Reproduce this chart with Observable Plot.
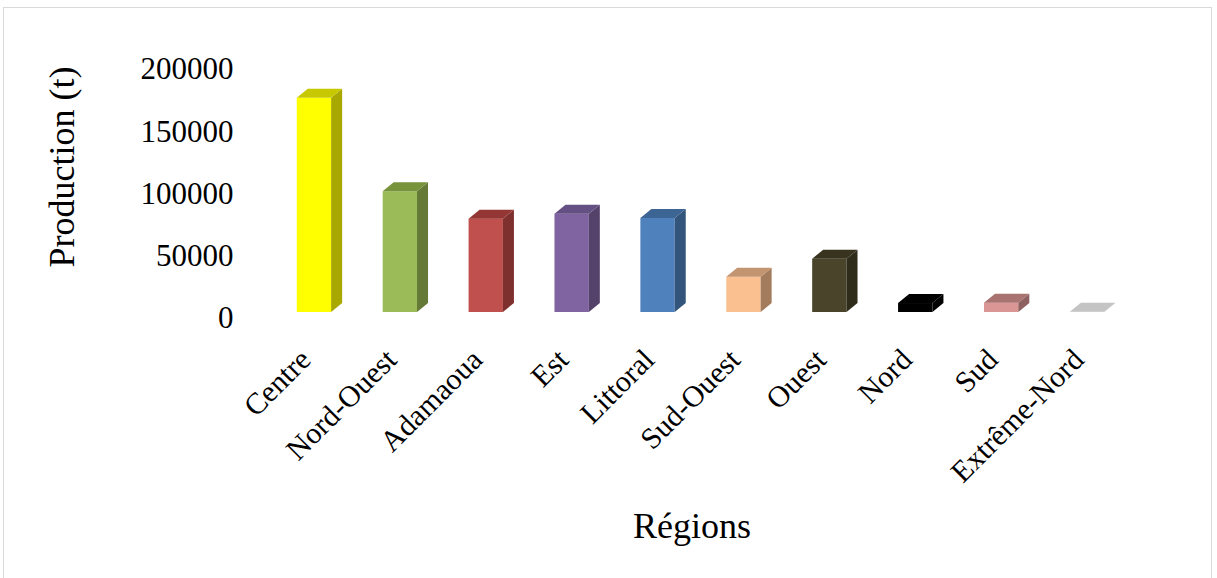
<!DOCTYPE html>
<html>
<head>
<meta charset="utf-8">
<script src="https://cdn.jsdelivr.net/npm/d3@7"></script>
<script src="https://cdn.jsdelivr.net/npm/@observablehq/plot@0.6"></script>
<style>
  html, body { margin: 0; padding: 0; background: #fff; overflow: hidden; }
  #wrap { position: relative; width: 1217px; height: 578px; }
  #frame { position: absolute; left: 3px; top: 7px; width: 1209px; height: 600px; border: 1px solid #d9d9d9; box-sizing: border-box; pointer-events: none; }
  #chart { position: absolute; left: 0; top: 0; }
</style>
</head>
<body>
<div id="wrap"><div id="frame"></div><div id="chart"></div></div>
<script>
// ---- data ----
const regions = ["Centre", "Nord-Ouest", "Adamaoua", "Est", "Littoral", "Sud-Ouest", "Ouest", "Nord", "Sud", "Extrême-Nord"];
const production = [172000, 97000, 75000, 79000, 75500, 28300, 42800, 7200, 7500, 300];
const yTicks = [0, 50000, 100000, 150000, 200000];
const yTitle = "Production (t)";
const xTitle = "Régions";

// ---- colours (front / top / side faces) ----
const frontColors = ["#FFFF00", "#9BBB59", "#C0504D", "#8064A2", "#4F81BD", "#FAC090", "#4A452A", "#000000", "#D99694", "#D6D6D6"];
const topColors   = ["#C8C800", "#77933C", "#943734", "#655083", "#3D6594", "#C39470", "#37331F", "#000000", "#A87371", "#C4C4C4"];
const sideColors  = ["#A8A800", "#657A36", "#7E302E", "#54426B", "#33547B", "#A37C5D", "#2F2C1B", "#000000", "#8E6160", "#A9A9A9"];

const data = regions.map((r, i) => ({region: r, value: production[i], front: frontColors[i], top: topColors[i], side: sideColors[i]}));

const DX = 11, DY = 9; // 3D depth offsets (style)

// 3D faces drawn through Plot's own scales
function faces(index, scales) {
  const sx = scales.x, sy = scales.y;
  const bw = sx.bandwidth();
  const g = d3.create("svg:g");
  for (const d of data) {
    const x0 = sx(d.region), x1 = x0 + bw;
    const yb = sy(0), yt = sy(d.value);
    g.append("polygon")
      .attr("points", [[x1, yt], [x1 + DX, yt - DY], [x1 + DX, yb - DY], [x1, yb]].map(p => p.join(",")).join(" "))
      .attr("fill", d.side);
    g.append("polygon")
      .attr("points", [[x0, yt], [x0 + DX, yt - DY], [x1 + DX, yt - DY], [x1, yt]].map(p => p.join(",")).join(" "))
      .attr("fill", d.top);
  }
  return g.node();
}

const chart = Plot.plot({
  width: 1217,
  height: 578,
  marginLeft: 271,
  marginRight: 87,
  marginTop: 63,
  marginBottom: 266,
  style: {fontFamily: "'Liberation Serif', 'Times New Roman', serif", background: "transparent", color: "#000"},
  x: {domain: regions, paddingInner: 0.6, paddingOuter: 0.3, round: false, axis: null},
  y: {domain: [0, 200000], axis: null},
  color: {type: "identity"},
  marks: [
    Plot.barY(data, {x: "region", y: "value", fill: "front"}),
    faces,
    Plot.text(yTicks, {y: d => d, text: d => String(d), frameAnchor: "left", textAnchor: "end", lineAnchor: "middle", dx: -38, dy: 6, fontSize: 31}),
    Plot.text(regions, {x: d => d, text: d => d, frameAnchor: "bottom", rotate: -45, textAnchor: "end", lineAnchor: "bottom", dx: -2, dy: 49, fontSize: 30}),
    Plot.text([yTitle], {text: d => d, frameAnchor: "left", rotate: -90, textAnchor: "middle", lineAnchor: "bottom", dx: -198, dy: -21, fontSize: 36}),
    Plot.text([xTitle], {text: d => d, frameAnchor: "bottom", textAnchor: "middle", lineAnchor: "bottom", dx: -9, dy: 225, fontSize: 36})
  ]
});
document.getElementById("chart").appendChild(chart);
</script>
</body>
</html>
